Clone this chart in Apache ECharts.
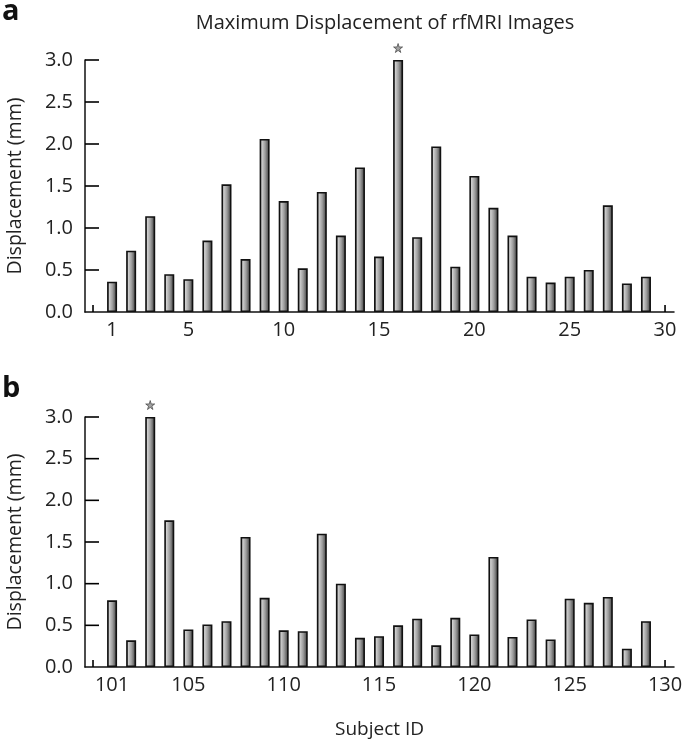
<!DOCTYPE html>
<html>
<head>
<meta charset="utf-8">
<script src="https://cdn.jsdelivr.net/npm/echarts@6/dist/echarts.min.js"></script>
<style>html,body{margin:0;padding:0;background:#fff}#c{width:685px;height:743px}</style>
</head>
<body>
<div id="c"></div>
<script>
// ---- data ----
const subjectsA = [1,2,3,4,5,6,7,8,9,10,11,12,13,14,15,16,17,18,19,20,21,22,23,24,25,26,27,28,29];
const displacementA = [0.36,0.73,1.14,0.45,0.39,0.85,1.52,0.63,2.06,1.32,0.52,1.43,0.91,1.72,0.66,3.0,0.89,1.97,0.54,1.62,1.24,0.91,0.42,0.35,0.42,0.50,1.27,0.34,0.42];
const starredA = [16];
const subjectsB = [101,102,103,104,105,106,107,108,109,110,111,112,113,114,115,116,117,118,119,120,121,122,123,124,125,126,127,128,129];
const displacementB = [0.80,0.32,3.0,1.76,0.45,0.51,0.55,1.56,0.83,0.44,0.43,1.60,1.0,0.35,0.37,0.50,0.58,0.26,0.59,0.39,1.32,0.36,0.57,0.33,0.82,0.77,0.84,0.22,0.55];
const starredB = [103];
const xLabelsA = [1,5,10,15,20,25,30];
const xLabelsB = [101,105,110,115,120,125,130];
const xTicksA = [0,30];
const xTicksB = [100,130];
const yTicks = [0.5,1.0,1.5,2.0,2.5,3.0];
const titleText = 'Maximum Displacement of rfMRI Images';
const yName = 'Displacement (mm)';
const xName = 'Subject ID';

const FONT = '"Open Sans", "Liberation Sans", sans-serif';
const FS = 20;
const X_RANGE_A = [-0.42, 30.47];
const X_RANGE_B = [99.58, 130.47];
const barColor = {
  type: 'linear', x: 0, y: 0, x2: 1, y2: 0,
  colorStops: [
    {offset: 0, color: '#5a5a5a'},
    {offset: 0.22, color: '#cfcfcf'},
    {offset: 0.55, color: '#9c9c9c'},
    {offset: 1, color: '#343434'}
  ]
};
const starPath = 'path://M50,0 L61,35 L98,35 L68,57 L79,91 L50,70 L21,91 L32,57 L2,35 L39,35 Z';

function lookup(subjects, values, id) { return values[subjects.indexOf(id)]; }

function xAxis(idx, range, labels, withName) {
  const ax = {
    type: 'value', gridIndex: idx, min: range[0], max: range[1],
    axisLine: {show: true, onZero: false, lineStyle: {color: '#111', width: 1.5}},
    axisTick: {show: false},
    axisLabel: {customValues: labels, color: '#222', fontSize: FS, fontFamily: FONT, margin: 8},
    splitLine: {show: false}, splitArea: {show: false}, minorSplitLine: {show: false}
  };
  if (withName) {
    ax.name = xName; ax.nameLocation = 'middle'; ax.nameGap = 53;
    ax.nameTextStyle = {color: '#222', fontSize: 19, fontFamily: FONT};
  }
  return ax;
}
function yAxis(idx) {
  return {
    type: 'value', gridIndex: idx, min: 0, max: 3, interval: 0.5,
    name: yName, nameLocation: 'middle', nameGap: 60,
    nameTextStyle: {color: '#222', fontSize: 19.5, fontFamily: FONT},
    axisLine: {show: true, onZero: false, lineStyle: {color: '#111', width: 1.5}},
    axisTick: {show: false},
    axisLabel: {color: '#222', fontSize: FS, fontFamily: FONT, margin: 12, formatter: v => v.toFixed(1)},
    splitLine: {show: false}, splitArea: {show: false}, minorSplitLine: {show: false}
  };
}
function barSeries(idx, subjects, values) {
  return {
    type: 'bar', xAxisIndex: idx, yAxisIndex: idx, barWidth: 10,
    data: subjects.map((s, i) => [s, values[i]]),
    itemStyle: {color: barColor, borderColor: '#111', borderWidth: 1.6},
    z: 3
  };
}
function starSeries(idx, starred, subjects, values) {
  return {
    type: 'scatter', xAxisIndex: idx, yAxisIndex: idx, symbol: starPath, symbolSize: 9,
    symbolOffset: [0, -12],
    data: starred.map(s => [s, lookup(subjects, values, s)]),
    itemStyle: {color: '#8a8a8a', borderColor: '#333', borderWidth: 0.8},
    z: 4
  };
}
// inward axis ticks, drawn with a custom series through the axes' scales
function tickSeries(idx, range, xTicks) {
  const data = yTicks.map(v => [range[0], v, 0]).concat(xTicks.map(v => [v, 0, 1]));
  return {
    type: 'custom', xAxisIndex: idx, yAxisIndex: idx, silent: true, clip: false, z: 10,
    data: data,
    renderItem: function (params, api) {
      const p = api.coord([api.value(0), api.value(1)]);
      const horizontal = api.value(2) === 0;
      return {
        type: 'line',
        shape: horizontal ? {x1: p[0], y1: p[1], x2: p[0] + 14, y2: p[1]}
                          : {x1: p[0], y1: p[1], x2: p[0], y2: p[1] - 7},
        style: {stroke: '#000', lineWidth: 1.6}
      };
    }
  };
}

const chart = echarts.init(document.getElementById('c'), null, {renderer: 'canvas'});
chart.setOption({
  backgroundColor: '#fff',
  animation: false,
  title: {text: titleText, left: 380, top: 8, textAlign: 'center',
    textStyle: {fontSize: 20, fontWeight: 'normal', color: '#222', fontFamily: FONT}},
  graphic: [
    {type: 'text', left: 2, top: -3, style: {text: 'a', font: 'bold 29px ' + FONT, fill: '#111'}},
    {type: 'text', left: 2, top: 374, style: {text: 'b', font: 'bold 29px ' + FONT, fill: '#111'}}
  ],
  grid: [
    {left: 85, top: 60, width: 589, height: 252, containLabel: false, outerBoundsMode: 'none'},
    {left: 85, top: 417, width: 589, height: 250, containLabel: false, outerBoundsMode: 'none'}
  ],
  xAxis: [
    xAxis(0, X_RANGE_A, xLabelsA, false),
    xAxis(1, X_RANGE_B, xLabelsB, true)
  ],
  yAxis: [yAxis(0), yAxis(1)],
  series: [
    barSeries(0, subjectsA, displacementA),
    starSeries(0, starredA, subjectsA, displacementA),
    tickSeries(0, X_RANGE_A, xTicksA),
    barSeries(1, subjectsB, displacementB),
    starSeries(1, starredB, subjectsB, displacementB),
    tickSeries(1, X_RANGE_B, xTicksB)
  ]
});
</script>
</body>
</html>
